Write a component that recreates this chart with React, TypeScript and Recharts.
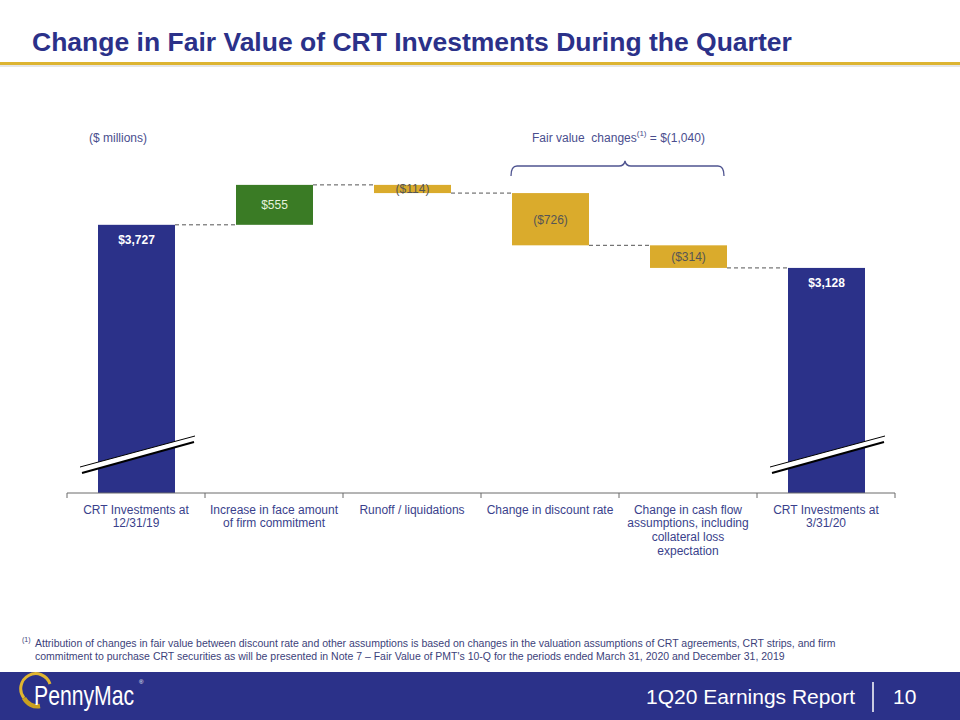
import React from "react";
import { BarChart, Bar, XAxis, YAxis, LabelList } from "recharts";

const categories = [
  "CRT Investments at 12/31/19",
  "Increase in face amount of firm commitment",
  "Runoff / liquidations",
  "Change in discount rate",
  "Change in cash flow assumptions, including collateral loss expectation",
  "CRT Investments at 3/31/20",
];
const tickLines = [
  ["CRT Investments at", "12/31/19"],
  ["Increase in face amount", "of firm commitment"],
  ["Runoff / liquidations"],
  ["Change in discount rate"],
  ["Change in cash flow", "assumptions, including", "collateral loss", "expectation"],
  ["CRT Investments at", "3/31/20"],
];
const changes = [3727, 555, -114, -726, -314, 3128];
const kinds = ["total", "up", "down", "down", "down", "total"];
const valueLabels = ["$3,727", "$555", "($114)", "($726)", "($314)", "$3,128"];

const COLORS: Record<string, string> = {
  total: "#2B3189",
  up: "#3A7B25",
  down: "#DAAB2C",
};
const LABEL_COLORS: Record<string, string> = {
  total: "#FFFFFF",
  up: "#E6F2DC",
  down: "#555555",
};
const NAVY = "#2B3189";
const TEXT_NAVY = "#3A3F8C";
const FONT = "'Liberation Sans', Arial, Helvetica, sans-serif";

const data = (() => {
  let run = 0;
  return categories.map((name, i) => {
    const kind = kinds[i];
    const v = changes[i];
    let base = 0;
    let len = 0;
    if (kind === "total") {
      base = 0;
      len = v;
      run = v;
    } else if (v >= 0) {
      base = run;
      len = v;
      run += v;
    } else {
      base = run + v;
      len = -v;
      run += v;
    }
    return { name, base, len, kind, label: valueLabels[i], idx: i };
  });
})();

const BAR_SIZE = 77;
const GAP = 61;

const WaterfallShape = (props: any) => {
  const { x, y, width, height, payload, index } = props;
  const kind = payload.kind;
  const fill = COLORS[kind];
  const level = kind === "down" ? y + height : y;
  const bottom = y + height;
  return (
    <g>
      <rect x={x} y={y} width={width} height={height} fill={fill} />
      {index < categories.length - 1 && (
        <line
          x1={x + width}
          x2={x + width + GAP}
          y1={level}
          y2={level}
          stroke="#555"
          strokeWidth={1}
          strokeDasharray="4 3"
        />
      )}
      {kind === "total" && (
        <g>
          <polygon
            points={`${x - 18},${bottom - 26} ${x + 97},${bottom - 57} ${x + 96},${bottom - 51} ${x - 16},${bottom - 20}`}
            fill="#FFFFFF"
          />
          <line x1={x - 18} y1={bottom - 26} x2={x + 97} y2={bottom - 57} stroke="#000" strokeWidth={1} />
          <line x1={x - 16} y1={bottom - 20} x2={x + 96} y2={bottom - 51} stroke="#000" strokeWidth={2} />
        </g>
      )}
    </g>
  );
};

const ValueLabel = (props: any) => {
  const { x, y, width, height, index } = props;
  const kind = kinds[index];
  const cx = x + width / 2;
  if (kind === "total") {
    return (
      <text x={cx} y={y + 19} textAnchor="middle" fill="#FFFFFF" fontSize={12} fontWeight="bold" fontFamily={FONT}>
        {valueLabels[index]}
      </text>
    );
  }
  return (
    <text
      x={cx}
      y={y + height / 2 + 4.5}
      textAnchor="middle"
      fill={LABEL_COLORS[kind]}
      fontSize={12}
      fontFamily={FONT}
    >
      {valueLabels[index]}
    </text>
  );
};

const CategoryTick = (props: any) => {
  const { x, y, index } = props;
  const lines = tickLines[index] || [];
  const half = 69;
  return (
    <g>
      <line x1={x - half} x2={x - half} y1={y} y2={y + 5} stroke="#6b6b6b" strokeWidth={1} />
      {index === categories.length - 1 && (
        <line x1={x + half} x2={x + half} y1={y} y2={y + 5} stroke="#6b6b6b" strokeWidth={1} />
      )}
      {lines.map((l, i) => (
        <text
          key={i}
          x={x}
          y={y + 20.5 + i * 13.7}
          textAnchor="middle"
          fill={TEXT_NAVY}
          fontSize={12}
          fontFamily={FONT}
        >
          {l}
        </text>
      ))}
    </g>
  );
};

export default function App() {
  return (
    <div
      style={{
        position: "absolute",
        left: 0,
        top: 0,
        width: 960,
        height: 720,
        background: "#FFFFFF",
        overflow: "hidden",
        fontFamily: FONT,
      }}
    >
      <div
        style={{
          position: "absolute",
          left: 32,
          top: 26,
          fontSize: 26.5,
          fontWeight: "bold",
          color: NAVY,
          whiteSpace: "nowrap",
          lineHeight: "32px",
        }}
      >
        Change in Fair Value of CRT Investments During the Quarter
      </div>
      <div style={{ position: "absolute", left: 0, top: 62, width: 960, height: 3, background: "#DDB431" }} />
      <div style={{ position: "absolute", left: 0, top: 65, width: 960, height: 2, background: "#E6E6E6" }} />

      <div style={{ position: "absolute", left: 0, top: 0 }}>
        <BarChart
          width={960}
          height={720}
          data={data}
          margin={{ top: 162, right: 65, left: 67, bottom: 147 }}
          barSize={BAR_SIZE}
        >
          <YAxis hide domain={[0, 4600]} />
          <XAxis
            dataKey="name"
            interval={0}
            height={80}
            tickLine={false}
            tickSize={0}
            tickMargin={0}
            axisLine={{ stroke: "#6b6b6b", strokeWidth: 1 }}
            tick={<CategoryTick />}
          />
          <Bar dataKey="base" stackId="w" fill="transparent" isAnimationActive={false} />
          <Bar dataKey="len" stackId="w" shape={<WaterfallShape />} isAnimationActive={false}>
            <LabelList dataKey="len" content={<ValueLabel />} />
          </Bar>
        </BarChart>
      </div>

      <div style={{ position: "absolute", left: 89, top: 131, fontSize: 12, color: "#4A4E8E" }}>($ millions)</div>
      <div style={{ position: "absolute", left: 532, top: 131, fontSize: 12, color: "#4A4E8E", whiteSpace: "nowrap" }}>
        Fair value&nbsp; changes<sup style={{ fontSize: 8, verticalAlign: "top", position: "relative", top: -2 }}>(1)</sup> = $(1,040)
      </div>
      <svg style={{ position: "absolute", left: 0, top: 0 }} width={960} height={720} pointerEvents="none">
        <path
          d="M511 176 Q511 166 517 166 L619 166 Q624 166 625 161 Q626 166 631 166 L718 166 Q724 166 724 176"
          fill="none"
          stroke="#4F5490"
          strokeWidth={1.3}
        />
      </svg>

      <div
        style={{
          position: "absolute",
          left: 22,
          top: 637,
          fontSize: 10.5,
          color: "#3C3F7A",
          lineHeight: "12.5px",
          width: 920,
          whiteSpace: "nowrap",
        }}
      >
        <div style={{ position: "relative" }}>
          <span style={{ position: "absolute", left: 0, top: -3, fontSize: 7 }}>(1)</span>
          <div style={{ paddingLeft: 13 }}>
            Attribution of changes in fair value between discount rate and other assumptions is based on changes in the valuation assumptions of CRT agreements, CRT strips, and firm
            <br />
            commitment to purchase CRT securities as will be presented in Note 7 – Fair Value of PMT's 10-Q for the periods ended March 31, 2020 and December 31, 2019
          </div>
        </div>
      </div>

      <div style={{ position: "absolute", left: 0, top: 672, width: 960, height: 48, background: NAVY }} />
      <svg style={{ position: "absolute", left: 0, top: 672 }} width={960} height={48}>
        <path d="M24 26 A15 15 0 1 1 50 12" fill="none" stroke="#E0B530" strokeWidth={3} />
        <path d="M24 26 A15 15 0 0 0 40 34" fill="none" stroke="#C9A020" strokeWidth={4.5} />
        <text transform="translate(34,33) scale(1,1.27)" x={0} y={0} fill="#FFFFFF" fontSize={21.2} fontFamily={FONT}>
          PennyMac
        </text>
        <text x={139} y={12} fill="#FFFFFF" fontSize={6} fontFamily={FONT}>®</text>
        <text x={855} y={32} fill="#FFFFFF" fontSize={21} fontFamily={FONT} textAnchor="end">
          1Q20 Earnings Report
        </text>
        <line x1={873} x2={873} y1={10} y2={40} stroke="#FFFFFF" strokeWidth={1.5} />
        <text x={893} y={32} fill="#FFFFFF" fontSize={21} fontFamily={FONT}>
          10
        </text>
      </svg>
    </div>
  );
}
